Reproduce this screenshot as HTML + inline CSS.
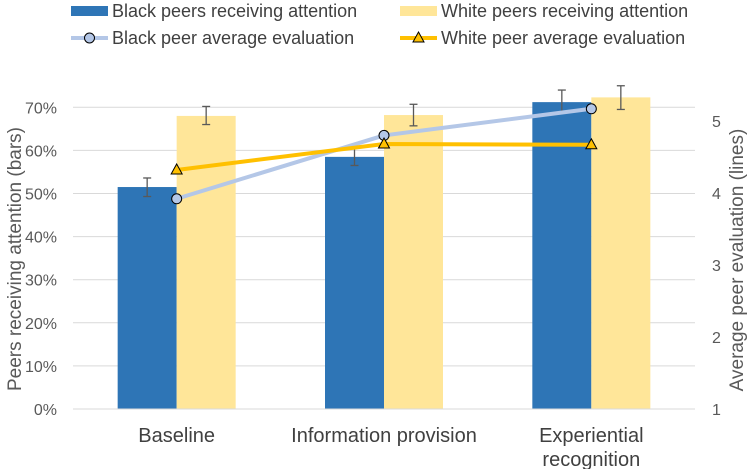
<!DOCTYPE html>
<html><head><meta charset="utf-8"><style>
body{margin:0;background:#fff}
svg text{font-family:"Liberation Sans",sans-serif}
</style></head><body>
<svg id="c" width="750" height="469"></svg>
<script>
const categories=[["Baseline"],["Information provision"],["Experiential","recognition"]];
const blackBars=[51.5,58.5,71.2];
const blackErrLo=[49.3,56.5,68.8];
const blackErrHi=[53.6,60.5,74.0];
const whiteBars=[68.0,68.2,72.3];
const whiteErrLo=[66.0,65.7,69.5];
const whiteErrHi=[70.2,70.7,75.0];
const blackEval=[3.92,4.80,5.17];
const whiteEval=[4.32,4.68,4.67];
const leftTicks=[0,10,20,30,40,50,60,70];
const rightTicks=[1,2,3,4,5];
const NS="http://www.w3.org/2000/svg";
const svg=document.getElementById('c');
function el(t,a,p){const e=document.createElementNS(NS,t);for(const k in a)e.setAttribute(k,a[k]);(p||svg).appendChild(e);return e;}
const x0=73,x1=695,bw=59;
const yL=v=>409-v*4.31;
const yR=v=>409-(v-1)*72;
const cx=i=>x0+(x1-x0)/categories.length*(i+0.5);
leftTicks.forEach(t=>{
 const g=el('line',{x1:x0,x2:x1,y1:yL(t),y2:yL(t),stroke:'#d9d9d9','stroke-width':1});
 
 const tx=el('text',{x:57,y:yL(t)+6,'text-anchor':'end','font-size':16,fill:'#595959'});tx.textContent=t+'%';
 
});
rightTicks.forEach(t=>{
 const tx=el('text',{x:712,y:yR(t)+6,'font-size':16,fill:'#595959'});tx.textContent=t;
 
});
function err(x,lo,hi){
 const g=el('g',{stroke:'#595959','stroke-width':1.3});
 
 el('line',{x1:x,x2:x,y1:yL(lo),y2:yL(hi)},g);
 el('line',{x1:x-4,x2:x+4,y1:yL(lo),y2:yL(lo)},g);
 el('line',{x1:x-4,x2:x+4,y1:yL(hi),y2:yL(hi)},g);
}
categories.forEach((c,i)=>{
 const c0=cx(i);
 const b=el('rect',{x:c0-bw,y:yL(blackBars[i]),width:bw,height:409-yL(blackBars[i]),fill:'#2e75b6'});
 
 const w=el('rect',{x:c0,y:yL(whiteBars[i]),width:bw,height:409-yL(whiteBars[i]),fill:'#ffe699'});
 
 err(c0-bw/2,blackErrLo[i],blackErrHi[i]);err(c0+bw/2,whiteErrLo[i],whiteErrHi[i]);
 c.forEach((ln,j)=>{const t=el('text',{x:c0,y:442+j*24,'text-anchor':'middle','font-size':20,fill:'#404040'});t.textContent=ln;
 });
});
const ax=el('line',{x1:x0,x2:x1,y1:409,y2:409,stroke:'#d9d9d9'});

const pb=el('polyline',{points:blackEval.map((v,i)=>cx(i)+','+yR(v)).join(' '),fill:'none',stroke:'#b4c7e7','stroke-width':4});

const pw=el('polyline',{points:whiteEval.map((v,i)=>cx(i)+','+yR(v)).join(' '),fill:'none',stroke:'#ffc000','stroke-width':4});

blackEval.forEach((v,i)=>{const m=el('circle',{cx:cx(i),cy:yR(v),r:5,fill:'#b4c7e7',stroke:'#000','stroke-width':1});
});
whiteEval.forEach((v,i)=>{const x=cx(i),y=yR(v);const m=el('polygon',{points:`${x},${y-6} ${x+5.5},${y+4} ${x-5.5},${y+4}`,fill:'#ffc000',stroke:'#000','stroke-width':1});
});
const lt=el('text',{transform:'translate(21,259) rotate(-90)','text-anchor':'middle','font-size':19,fill:'#595959'});lt.textContent='Peers receiving attention  (bars)';

const rt=el('text',{transform:'translate(743,260) rotate(-90)','text-anchor':'middle','font-size':19,fill:'#595959'});rt.textContent='Average peer evaluation (lines)';

function leg(x,y,type,color,label){
 const g=el('g',{});
 if(type==='bar')el('rect',{x:x,y:y-5,width:37,height:10,fill:color},g);
 else{el('line',{x1:x,x2:x+37,y1:y,y2:y,stroke:color,'stroke-width':4},g);
  if(type==='circle')el('circle',{cx:x+18.5,cy:y,r:5,fill:color,stroke:'#000'},g);
  else el('polygon',{points:`${x+18.5},${y-6} ${x+24},${y+4} ${x+13},${y+4}`,fill:color,stroke:'#000'},g);}
 const t=el('text',{x:x+41,y:y+6,'font-size':18,fill:'#404040'},g);t.textContent=label;
}
leg(71,11,'bar','#2e75b6','Black peers receiving attention');
leg(400,11,'bar','#ffe699','White peers receiving attention');
leg(71,38,'circle','#b4c7e7','Black peer average evaluation');
leg(400,38,'tri','#ffc000','White peer average evaluation');
</script></body></html>
